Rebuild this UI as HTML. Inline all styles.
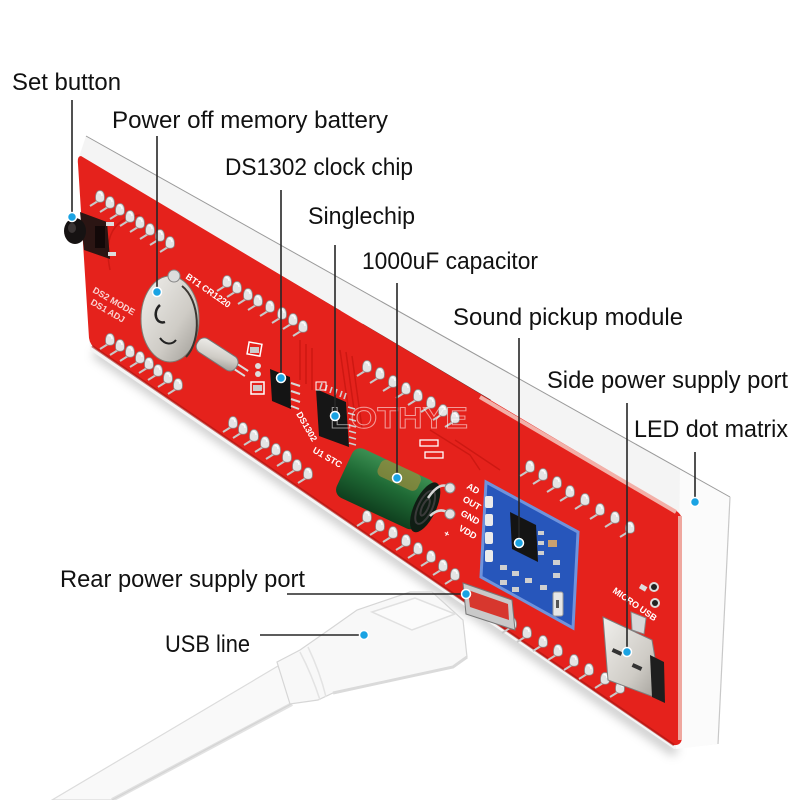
<!DOCTYPE html>
<html><head><meta charset="utf-8"><style>
html,body{margin:0;padding:0;background:#fff;}
svg{display:block}
.lbl{font-family:"Liberation Sans",sans-serif;font-size:24px;fill:#111;}
.ss{font-family:"Liberation Sans",sans-serif;font-size:9px;fill:#fff;font-weight:bold;}
.ln{stroke:#262626;stroke-width:1.6;fill:none;}
.dot{fill:#1aa3e3;stroke:#fff;stroke-width:1.5;}
</style></head><body>
<svg width="800" height="800" viewBox="0 0 800 800" xmlns="http://www.w3.org/2000/svg">
<defs>
  <symbol id="pad" overflow="visible">
    <path d="M-2,4 L-10,9" stroke="#c9c9c9" stroke-width="2" fill="none"/>
    <path d="M0,-6.5 C4,-6.5 5,-1 4.2,3 C3,6 -3,6 -4.2,3 C-5,-1 -4,-6.5 0,-6.5 Z" fill="#e4e4e4" stroke="#8a8a8a" stroke-width="0.8"/>
    <path d="M-1.5,-4 C0,-5 2,-4 2,-1" stroke="#fff" stroke-width="1.2" fill="none"/>
  </symbol>
  <filter id="blur" x="-10%" y="-10%" width="120%" height="120%"><feGaussianBlur stdDeviation="5"/></filter>
  <linearGradient id="capg" x1="0" y1="0" x2="0" y2="1">
    <stop offset="0" stop-color="#3c8f52"/><stop offset="0.45" stop-color="#1f6a35"/><stop offset="1" stop-color="#0f3f1e"/>
  </linearGradient>
  <linearGradient id="silver" x1="0" y1="0" x2="1" y2="1">
    <stop offset="0" stop-color="#f0efec"/><stop offset="0.6" stop-color="#cfccc6"/><stop offset="1" stop-color="#9d9a94"/>
  </linearGradient>
</defs>
<rect width="800" height="800" fill="#fff"/>

<!-- shadow under board -->
<path d="M95,352 L676,752" stroke="#000" stroke-opacity="0.22" stroke-width="10" filter="url(#blur)"/>

<!-- white LED matrix box -->
<polygon points="86,136 730,497 718,744 674,749 90,350 78,160" fill="#f4f4f4"/>
<polygon points="680,469 730,497 718,744 676,749" fill="#fbfbfb"/>
<line x1="86" y1="136" x2="730" y2="497" stroke="#9a9a9a" stroke-width="1"/>
<line x1="730" y1="497" x2="718" y2="744" stroke="#c8c8c8" stroke-width="1.2"/>
<!-- dark gap -->
<path d="M215,238 L340,312 M362,325 L490,401" stroke="#2a0c0c" stroke-width="3" opacity="0.85"/>

<!-- red board -->
<path d="M81,156 L675,510 Q682,514 682,521 L682,737 Q682,746 673,745 L96,349 Q90,345 89,338 L78,164 Q77,156 81,156 Z" fill="#e5221c"/>
<!-- board rim -->
<path d="M480,397 L676,512" stroke="#f3b0a8" stroke-width="4"/>
<path d="M680,516 L680,740" stroke="#efa79f" stroke-width="4"/>
<path d="M92,346 L674,745" stroke="#a81410" stroke-width="2.5" opacity="0.6"/>

<!-- traces -->
<g stroke="#c4150f" stroke-width="1.5" fill="none" opacity="0.7">
  <path d="M300,340 L300,380 M306,344 L306,384 M312,348 L312,390"/>
  <path d="M340,350 L350,420 M346,352 L356,424 M352,356 L362,428"/>
  <path d="M110,270 Q100,220 140,215"/>
  <path d="M430,430 L470,455 L480,470"/>
  <path d="M455,440 L500,470"/>
</g>

<!-- pads -->
<g>
<use href="#pad" x="100" y="197"/><use href="#pad" x="110" y="203"/><use href="#pad" x="120" y="210"/><use href="#pad" x="130" y="217"/><use href="#pad" x="140" y="223"/><use href="#pad" x="150" y="230"/><use href="#pad" x="160" y="236"/><use href="#pad" x="170" y="243"/>
<use href="#pad" x="227" y="282"/><use href="#pad" x="237" y="288"/><use href="#pad" x="248" y="295"/><use href="#pad" x="258" y="301"/><use href="#pad" x="270" y="307"/><use href="#pad" x="282" y="314"/><use href="#pad" x="293" y="320"/><use href="#pad" x="303" y="327"/>
<use href="#pad" x="367" y="367"/><use href="#pad" x="380" y="374"/><use href="#pad" x="393" y="382"/><use href="#pad" x="406" y="389"/><use href="#pad" x="418" y="396"/><use href="#pad" x="431" y="403"/><use href="#pad" x="443" y="411"/><use href="#pad" x="455" y="418"/>
<use href="#pad" x="530" y="467"/><use href="#pad" x="543" y="475"/><use href="#pad" x="557" y="483"/><use href="#pad" x="570" y="492"/><use href="#pad" x="585" y="500"/><use href="#pad" x="600" y="510"/><use href="#pad" x="615" y="518"/><use href="#pad" x="630" y="528"/>
<use href="#pad" x="110" y="340"/><use href="#pad" x="120" y="346"/><use href="#pad" x="130" y="352"/><use href="#pad" x="140" y="358"/><use href="#pad" x="149" y="364"/><use href="#pad" x="158" y="371"/><use href="#pad" x="168" y="378"/><use href="#pad" x="178" y="385"/>
<use href="#pad" x="233" y="423"/><use href="#pad" x="243" y="429"/><use href="#pad" x="254" y="436"/><use href="#pad" x="265" y="443"/><use href="#pad" x="276" y="450"/><use href="#pad" x="287" y="457"/><use href="#pad" x="297" y="466"/><use href="#pad" x="308" y="474"/>
<use href="#pad" x="367" y="517"/><use href="#pad" x="380" y="526"/><use href="#pad" x="393" y="533"/><use href="#pad" x="406" y="541"/><use href="#pad" x="418" y="549"/><use href="#pad" x="431" y="557"/><use href="#pad" x="443" y="566"/><use href="#pad" x="455" y="575"/>
<use href="#pad" x="512" y="624"/><use href="#pad" x="527" y="633"/><use href="#pad" x="543" y="642"/><use href="#pad" x="558" y="651"/><use href="#pad" x="574" y="661"/><use href="#pad" x="589" y="670"/><use href="#pad" x="605" y="679"/><use href="#pad" x="620" y="688"/>
</g>

<!-- silkscreen left -->
<g class="ss" opacity="0.8">
  <text x="92" y="292" transform="rotate(30 92 292)">DS2 MODE</text>
  <text x="90" y="304" transform="rotate(30 90 304)">DS1 ADJ</text>
</g>

<!-- set button -->
<polygon points="80,212 107,222 110,259 84,250" fill="#2b1513"/>
<rect x="95" y="226" width="10" height="22" fill="#120808"/>
<ellipse cx="75" cy="231" rx="11" ry="13" fill="#161212"/>
<ellipse cx="72" cy="228" rx="4" ry="5" fill="#3a3434"/>
<rect x="106" y="222" width="8" height="4" fill="#ddd"/>
<rect x="108" y="252" width="8" height="4" fill="#ddd"/>

<!-- battery holder -->
<ellipse cx="170" cy="319" rx="29" ry="43" fill="url(#silver)" stroke="#7f7a72" stroke-width="1"/>
<path d="M182,286 C200,300 202,340 186,357" stroke="#3a3631" stroke-width="2" fill="none"/>
<path d="M160,305 C152,312 156,325 165,322" stroke="#222" stroke-width="2.5" fill="none"/>
<path d="M160,338 C165,345 172,345 176,340" stroke="#222" stroke-width="2" fill="none"/>
<circle cx="174" cy="276" r="6" fill="#dcdcdc" stroke="#888"/>
<text class="ss" x="185" y="278" transform="rotate(35 185 278)" font-size="7">BT1 CR1220</text>

<!-- crystal -->
<g transform="translate(218,355) rotate(33)">
  <rect x="-24" y="-8" width="46" height="16" rx="7" fill="url(#silver)" stroke="#777"/>
  <path d="M22,-3 L34,-3 M22,3 L34,3" stroke="#ddd" stroke-width="2"/>
</g>
<!-- SMD caps -->
<rect x="248" y="343" width="13" height="12" fill="none" stroke="#fff" stroke-width="1.5" transform="rotate(10 254 349)"/>
<rect x="250" y="347" width="9" height="6" fill="#ccc"/>
<rect x="251" y="382" width="13" height="12" fill="none" stroke="#fff" stroke-width="1.5"/>
<rect x="253" y="385" width="9" height="6" fill="#ccc"/>
<circle cx="258" cy="366" r="3" fill="#ddd"/><circle cx="258" cy="374" r="3" fill="#ddd"/>

<!-- DS1302 -->
<polygon points="270,369 290,377 291,409 272,401" fill="#141414"/>
<g stroke="#d8d8d8" stroke-width="2">
  <path d="M291,383 L300,386 M291,391 L300,394 M291,399 L300,402 M291,406 L299,409"/>
</g>
<text class="ss" x="296" y="414" transform="rotate(60 296 414)" font-size="7">DS1302</text>

<!-- MCU -->
<polygon points="316,389 346,402 349,447 319,436" fill="#161616"/>
<g stroke="#cfcfcf" stroke-width="1.6">
  <path d="M320,389 L322,383 M325,391 L327,385 M330,393 L332,387 M335,395 L337,389 M340,397 L342,391 M344,399 L346,393"/>
  <path d="M348,407 L355,409 M348,413 L355,415 M349,419 L356,421 M349,425 L356,427 M349,431 L356,433 M349,437 L356,439 M349,443 L356,445"/>
</g>
<rect x="316" y="382" width="10" height="8" fill="none" stroke="#fff" stroke-width="1"/>
<text class="ss" x="312" y="452" transform="rotate(30 312 452)" font-size="7">U1 STC</text>

<!-- watermark -->
<text x="330" y="428" font-family="Liberation Sans, sans-serif" font-size="30" font-weight="bold" fill="none" stroke="#ffffff" stroke-width="0.9" opacity="0.55" textLength="138" lengthAdjust="spacingAndGlyphs">LOTHYE</text>

<!-- capacitor -->
<rect x="420" y="440" width="18" height="6" fill="none" stroke="#fff" stroke-width="1.3"/>
<rect x="425" y="452" width="18" height="6" fill="none" stroke="#fff" stroke-width="1.3"/>
<g transform="translate(388,490) rotate(25)">
  <rect x="-48" y="-27" width="90" height="54" rx="9" fill="url(#capg)"/>
  <rect x="-18" y="-27" width="44" height="18" rx="6" fill="#9c8a3c" opacity="0.7"/>
  <ellipse cx="41" cy="0" rx="11" ry="27" fill="#101d14"/>
  <ellipse cx="41" cy="0" rx="7" ry="18" fill="none" stroke="#3a3a3a" stroke-width="2"/>
  <ellipse cx="41" cy="0" rx="3" ry="9" fill="none" stroke="#3a3a3a" stroke-width="2"/>
</g>
<path d="M428,498 Q440,480 450,488" stroke="#d8d8d8" stroke-width="2.5" fill="none"/>
<path d="M430,516 Q440,506 450,514" stroke="#d8d8d8" stroke-width="2.5" fill="none"/>
<circle cx="450" cy="488" r="5" fill="#e2e2e2" stroke="#888"/>
<circle cx="450" cy="514" r="5" fill="#e2e2e2" stroke="#888"/>
<g class="ss" font-size="10">
  <text x="466" y="488" transform="rotate(30 466 488)">AD</text>
  <text x="462" y="501" transform="rotate(30 462 501)">OUT</text>
  <text x="460" y="515" transform="rotate(30 460 515)">GND</text>
  <text x="458" y="530" transform="rotate(30 458 530)">VDD</text>
  <text x="443" y="535" transform="rotate(30 443 535)">+</text>
</g>

<!-- sound module -->
<polygon points="486,482 578,532 573,628 481,577" fill="#2756bb" stroke="#6f93dc" stroke-width="3"/>
<g fill="#ebebeb">
  <rect x="485" y="496" width="8" height="12" rx="2"/>
  <rect x="485" y="514" width="8" height="12" rx="2"/>
  <rect x="485" y="532" width="8" height="12" rx="2"/>
  <rect x="485" y="550" width="8" height="12" rx="2"/>
</g>
<polygon points="510,512 536,525 538,562 512,549" fill="#141414"/>
<g fill="#cfcfcf">
  <rect x="538" y="531" width="6" height="4"/><rect x="538" y="541" width="6" height="4"/><rect x="538" y="551" width="6" height="4"/>
  <rect x="500" y="565" width="7" height="5"/><rect x="512" y="571" width="7" height="5"/><rect x="525" y="578" width="7" height="5"/>
  <rect x="500" y="580" width="7" height="5"/><rect x="512" y="587" width="7" height="5"/><rect x="540" y="585" width="7" height="5"/>
  <rect x="553" y="560" width="7" height="5"/><rect x="553" y="573" width="7" height="5"/>
</g>
<rect x="548" y="540" width="9" height="7" fill="#c9a070"/>
<rect x="553" y="592" width="10" height="24" rx="2" fill="#e6e6e6" stroke="#999"/>
<rect x="556" y="600" width="3" height="8" fill="#555"/>

<!-- side micro USB -->
<circle cx="654" cy="587" r="5" fill="#ddd"/><circle cx="654" cy="587" r="3" fill="#222"/>
<circle cx="655" cy="603" r="5" fill="#ddd"/><circle cx="655" cy="603" r="3" fill="#222"/>
<rect x="640" y="585" width="7" height="5" fill="#ddd" transform="rotate(30 643 587)"/>
<text class="ss" x="612" y="592" font-size="7" transform="rotate(35 612 592)">MICRO USB</text>
<polygon points="631,612 646,618 644,634 632,630" fill="#d8d8d8" stroke="#888"/>
<polygon points="603,617 652,640 662,700 608,680" fill="url(#silver)" stroke="#7d7d7d" stroke-width="1"/>
<polygon points="650,655 664,662 665,703 652,697" fill="#1e1e1e"/>
<rect x="612" y="650" width="10" height="4" fill="#333" transform="rotate(25 617 652)"/>
<rect x="632" y="665" width="10" height="4" fill="#333" transform="rotate(25 637 667)"/>

<!-- rear USB port -->
<polygon points="463,583 512,600 515,630 466,614" fill="#c9c9c9" stroke="#777"/>
<polygon points="468,590 508,604 509,620 470,607" fill="#d7372e"/>

<!-- USB cable -->
<polygon points="278,666 293,703 112,800 52,800" fill="#f9f9f9" stroke="#dcdcdc" stroke-width="1.2"/>
<path d="M292,704 L112,800" stroke="#d0d0d0" stroke-width="4" opacity="0.6"/>
<polygon points="300,650 333,627 357,610 410,592 432,592 463,620 467,657 453,667 333,693 318,700 290,704 277,662" fill="#f8f8f8" stroke="#d6d6d6" stroke-width="1.2"/>
<path d="M333,693 L453,667 L467,657" stroke="#dadada" stroke-width="3" fill="none"/>
<polygon points="372,612 415,598 455,614 412,630" fill="#fbfbfb" stroke="#e0e0e0" stroke-width="1.5"/>
<path d="M300,652 Q312,675 320,700 M308,647 Q320,672 326,697" stroke="#e3e3e3" stroke-width="1.5" fill="none"/>

<!-- labels -->
<text class="lbl" x="12" y="90" textLength="109" lengthAdjust="spacingAndGlyphs">Set button</text>
<text class="lbl" x="112" y="128" textLength="276" lengthAdjust="spacingAndGlyphs">Power off memory battery</text>
<text class="lbl" x="225" y="175" textLength="188" lengthAdjust="spacingAndGlyphs">DS1302 clock chip</text>
<text class="lbl" x="308" y="224" textLength="107" lengthAdjust="spacingAndGlyphs">Singlechip</text>
<text class="lbl" x="362" y="269" textLength="176" lengthAdjust="spacingAndGlyphs">1000uF capacitor</text>
<text class="lbl" x="453" y="325" textLength="230" lengthAdjust="spacingAndGlyphs">Sound pickup module</text>
<text class="lbl" x="547" y="388" textLength="241" lengthAdjust="spacingAndGlyphs">Side power supply port</text>
<text class="lbl" x="634" y="437" textLength="154" lengthAdjust="spacingAndGlyphs">LED dot matrix</text>
<text class="lbl" x="60" y="587" textLength="245" lengthAdjust="spacingAndGlyphs">Rear power supply port</text>
<text class="lbl" x="165" y="652" textLength="85" lengthAdjust="spacingAndGlyphs">USB line</text>

<!-- leader lines -->
<path class="ln" d="M72,100 L72,217 M157,136 L157,292 M281,190 L281,378 M335,245 L335,416 M397,283 L397,478 M519,338 L519,543 M627,403 L627,652 M695,452 L695,502 M287,594 L466,594 M260,635 L364,635"/>
<circle class="dot" cx="72" cy="217" r="4.5"/>
<circle class="dot" cx="157" cy="292" r="4.5"/>
<circle class="dot" cx="281" cy="378" r="4.5"/>
<circle class="dot" cx="335" cy="416" r="4.5"/>
<circle class="dot" cx="397" cy="478" r="4.5"/>
<circle class="dot" cx="519" cy="543" r="4.5"/>
<circle class="dot" cx="627" cy="652" r="4.5"/>
<circle class="dot" cx="695" cy="502" r="4.5"/>
<circle class="dot" cx="466" cy="594" r="4.5"/>
<circle class="dot" cx="364" cy="635" r="4.5"/>
</svg>
</body></html>
